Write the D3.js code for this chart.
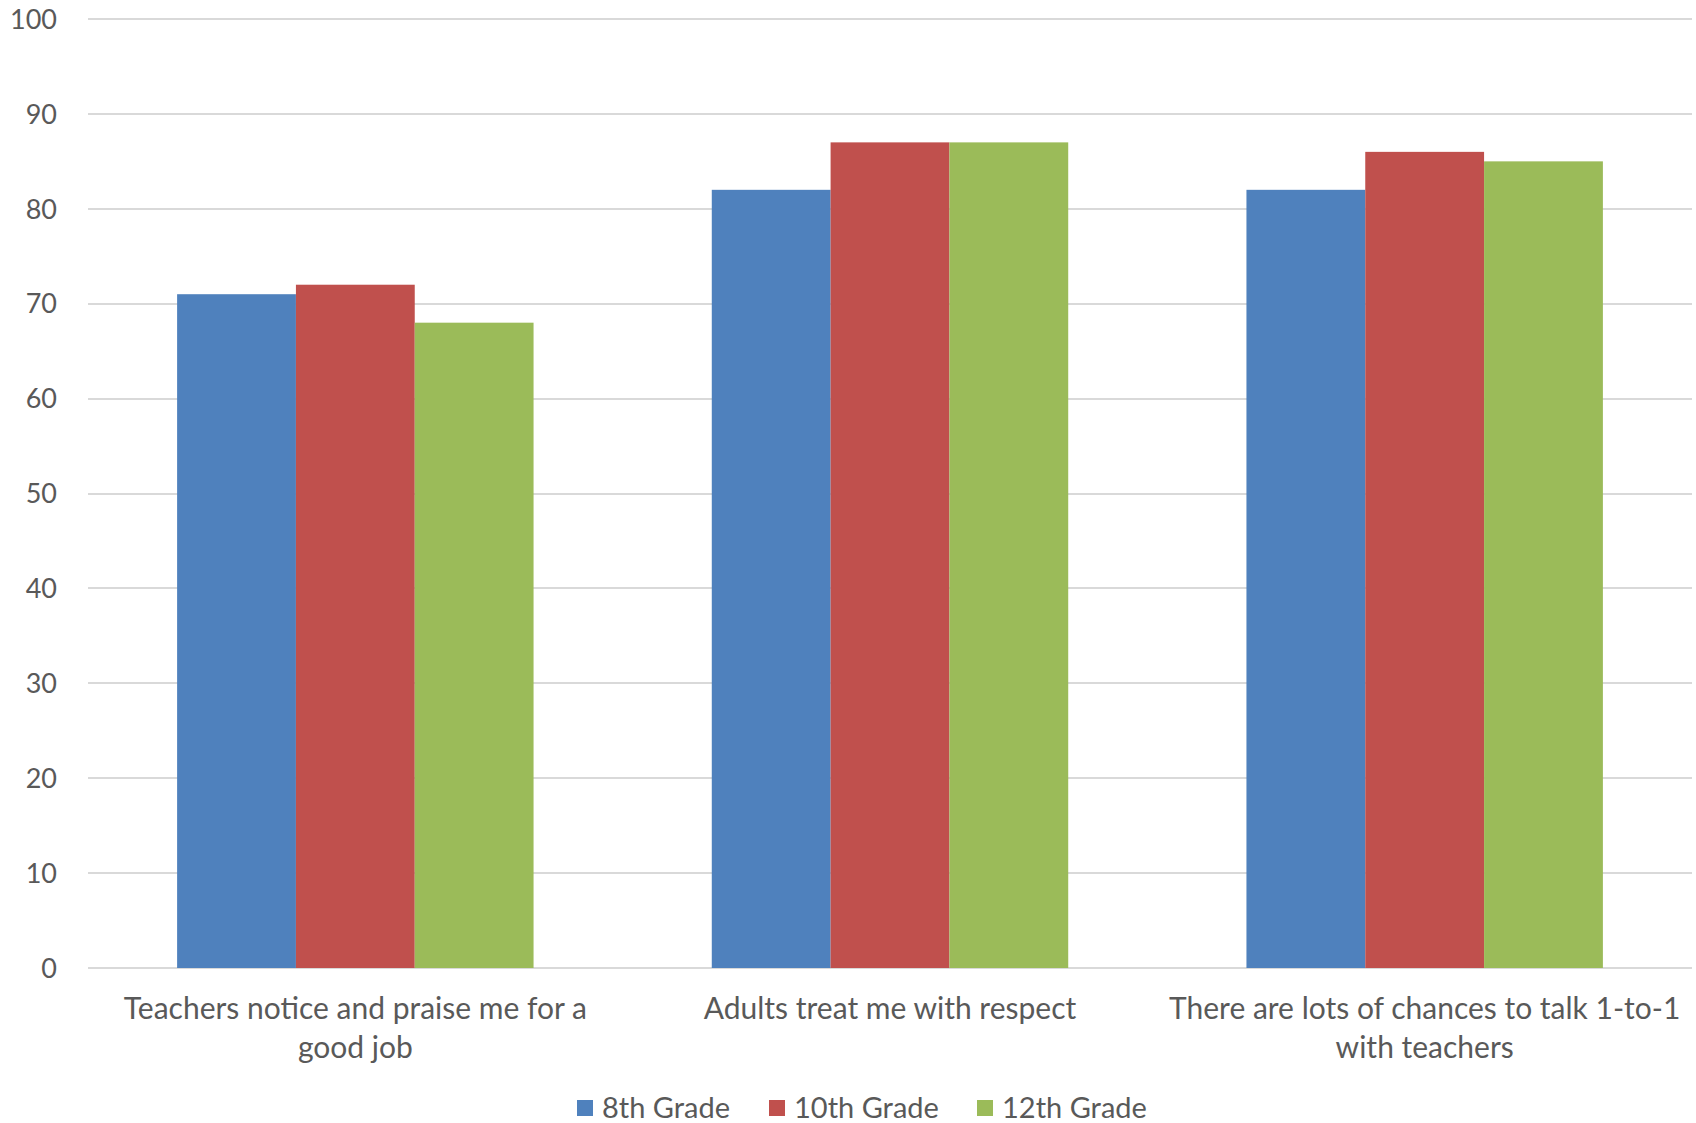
<!DOCTYPE html>
<html><head><meta charset="utf-8">
<script src="https://cdn.jsdelivr.net/npm/d3@7"></script>
<style>body{margin:0;background:#fff;} text{font-family:Lato,"Open Sans",sans-serif;fill:#595959;}</style>
</head><body><svg id="c" width="1696" height="1123"></svg>
<script>
const categories = ["Teachers notice and praise me for a\ngood job", "Adults treat me with respect", "There are lots of chances to talk 1-to-1\nwith teachers"];
const seriesNames = ["8th Grade", "10th Grade", "12th Grade"];
const grade8 = [71, 82, 82];
const grade10 = [72, 87, 86];
const grade12 = [68, 87, 85];
const yTicks = [0,10,20,30,40,50,60,70,80,90,100];
const colors = ["#4F81BD", "#C0504D", "#9BBB59"];
const series = [grade8, grade10, grade12];

(function(){
const svg = d3.select("#c");
const pLeft = 88, pRight = 1692, pTop = 19, pBottom = 968;
const x = d3.scaleBand().domain(categories).range([pLeft, pRight]).paddingInner(1/3).paddingOuter(1/6);
const xs = d3.scaleBand().domain(seriesNames).range([0, x.bandwidth()]);
const y = d3.scaleLinear().domain([0,100]).range([pBottom, pTop]);

svg.append("g").selectAll("line").data(yTicks).join("line")
  .attr("x1", pLeft).attr("x2", pRight)
  .attr("y1", d => Math.round(y(d))).attr("y2", d => Math.round(y(d)))
  .attr("stroke", "#d9d9d9").attr("stroke-width", 2);

svg.append("g").selectAll("text").data(yTicks).join("text")
  .attr("x", 57).attr("y", d => y(d)).attr("dy", "0.36em")
  .attr("text-anchor", "end").attr("font-size", 27).text(d => d);

const g = svg.append("g");
series.forEach((vals, si) => {
  g.selectAll(null).data(vals).join("rect")
    .attr("x", (d,i) => x(categories[i]) + xs(seriesNames[si]))
    .attr("width", xs.bandwidth())
    .attr("y", d => y(d)).attr("height", d => pBottom - y(d))
    .attr("fill", colors[si]);
});

categories.forEach(c => {
  const lines = c.split("\n");
  const cx = x(c) + x.bandwidth()/2;
  const t = svg.append("text").attr("text-anchor","middle").attr("font-size", 30)
    .attr("x", cx).attr("y", 1019);
  lines.forEach((l, i) => t.append("tspan").attr("x", cx).attr("dy", i ? 39 : 0).text(l));
});

const legX = [577, 769, 977];
seriesNames.forEach((s, i) => {
  svg.append("rect").attr("x", legX[i]).attr("y", 1100).attr("width", 16).attr("height", 16).attr("fill", colors[i]);
  svg.append("text").attr("x", legX[i] + 25).attr("y", 1108).attr("dy","0.36em").attr("font-size", 29).text(s);
});
})();
</script></body></html>
